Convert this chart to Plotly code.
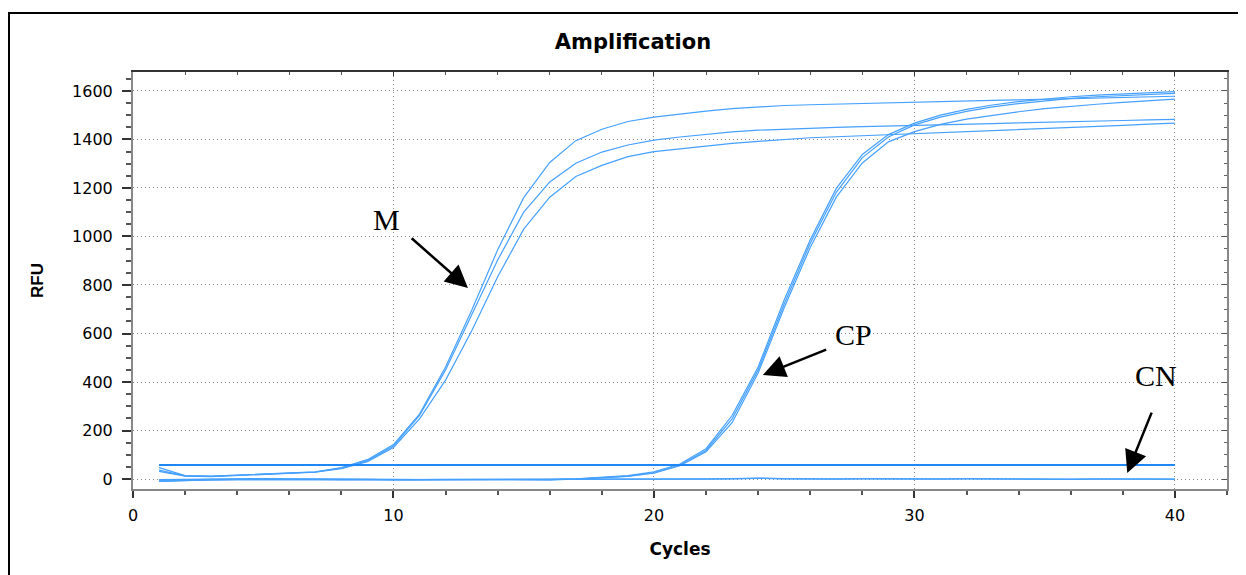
import plotly.graph_objects as go

cycles = list(range(1, 41))

m1 = [47, 14, 12, 16, 19, 23, 30, 47, 80, 142, 268, 462, 695, 945, 1160, 1305, 1395, 1442, 1474, 1492,
      1505, 1517, 1527, 1534, 1540, 1543, 1546, 1548, 1551, 1553, 1556, 1558, 1561, 1563, 1566, 1568, 1571, 1573, 1576, 1578]
m2 = [37, 13, 11, 15, 18, 22, 29, 45, 76, 136, 262, 450, 680, 903, 1100, 1225, 1302, 1348, 1377, 1397,
      1410, 1422, 1431, 1438, 1443, 1447, 1450, 1453, 1455, 1458, 1460, 1463, 1465, 1468, 1470, 1473, 1476, 1478, 1481, 1483]
m3 = [32, 12, 10, 14, 17, 21, 28, 43, 72, 130, 248, 408, 610, 834, 1030, 1162, 1247, 1293, 1329, 1350,
      1362, 1374, 1384, 1392, 1400, 1407, 1411, 1415, 1420, 1424, 1428, 1433, 1437, 1441, 1446, 1450, 1454, 1458, 1463, 1467]

cp1 = [-8, -4, -2, -1, -1, -2, -2, -3, -3, -4, -4, -4, -4, -3, -3, -2, 1, 6, 14, 30,
       62, 125, 262, 462, 738, 986, 1198, 1338, 1420, 1467, 1500, 1524, 1542, 1556, 1567, 1576, 1583, 1588, 1593, 1597]
cp2 = [-10, -5, -3, -2, -2, -2, -3, -3, -4, -5, -5, -5, -4, -4, -3, -3, 0, 5, 12, 27,
       58, 118, 248, 450, 722, 972, 1182, 1325, 1410, 1460, 1492, 1516, 1534, 1548, 1560, 1569, 1576, 1581, 1586, 1590]
cp3 = [-9, -5, -3, -2, -1, -2, -2, -3, -3, -4, -5, -4, -4, -4, -3, -2, 0, 4, 11, 24,
       55, 112, 232, 437, 706, 955, 1162, 1303, 1390, 1432, 1462, 1484, 1500, 1514, 1527, 1537, 1545, 1553, 1560, 1566]

cn1 = [-2, 0, 1, 1, 2, 1, 0, 0, -1, -2, -2, -1, -1, 0, -1, -2, -1, 0, -1, 0,
       0, 1, 2, 4, 2, 0, 1, 2, 1, 0, 1, 2, 1, 0, -1, 0, 1, 0, 1, 0]
cn2 = [-5, -2, -1, 0, 0, 1, 1, 0, -1, -3, -3, -2, -2, -1, -2, -3, -2, -1, 0, -1,
       -1, 0, 1, 3, 1, -1, 0, 1, 0, -1, 0, 1, 0, -1, -2, -1, 0, -1, 0, 0]

threshold = 58

x_ticks = [0, 10, 20, 30, 40]
y_ticks = [0, 200, 400, 600, 800, 1000, 1200, 1400, 1600]

curve_color = "#45a0ff"
thr_color = "#1f87f5"

fig = go.Figure()
for ys in [cn1, cn2, cp3, cp2, cp1, m3, m2, m1]:
    fig.add_trace(go.Scatter(x=cycles, y=ys, mode="lines",
                             line=dict(color=curve_color, width=1.2),
                             showlegend=False, hoverinfo="skip"))
fig.add_trace(go.Scatter(x=[cycles[0], cycles[-1]], y=[threshold, threshold], mode="lines",
                         line=dict(color=thr_color, width=2), showlegend=False, hoverinfo="skip"))
# dummy trace to display top/right axes
fig.add_trace(go.Scatter(x=[None], y=[None], xaxis="x2", yaxis="y2", showlegend=False))

XR = [0, 42]
YR = [-41, 1678]
SANS = "DejaVu Sans, Verdana, sans-serif"
tickfont = dict(family=SANS, size=16, color="black")

W, H = 1238, 567
L, R, T, B = 125, 19, 64, 86
PW, PH = W - L - R, H - T - B

fig.update_layout(
    width=W, height=H,
    margin=dict(l=L, r=R, t=T, b=B),
    paper_bgcolor="white", plot_bgcolor="white",
    title=dict(text="<b>Amplification</b>", x=(625 - L) / PW, xref="paper", xanchor="center",
               y=1 - 34 / H, yref="container", yanchor="middle",
               font=dict(family=SANS, size=21, color="black")),
    xaxis=dict(range=XR, tickvals=x_ticks, ticks="outside", ticklen=7, tickwidth=1.5, tickcolor="#333",
               showline=True, linecolor="#888", linewidth=2,
               showgrid=True, gridcolor="#888", griddash="1px,3px", gridwidth=1,
               zeroline=False, tickfont=tickfont, ticklabelstandoff=4,
               minor=dict(dtick=2, ticks="outside", ticklen=4, tickcolor="#555", showgrid=False),
               title=dict(text="<b>Cycles</b>", standoff=19,
                          font=dict(family=SANS, size=17, color="black"))),
    yaxis=dict(range=YR, tickvals=y_ticks, ticks="outside", ticklen=9, tickwidth=1.5, tickcolor="#333",
               showline=True, linecolor="#888", linewidth=2,
               showgrid=True, gridcolor="#888", griddash="1px,3px", gridwidth=1,
               zeroline=False, tickfont=tickfont, ticklabelstandoff=6,
               minor=dict(dtick=50, ticks="outside", ticklen=5, tickcolor="#555", showgrid=False),
               title=dict(text="<b>RFU</b>", standoff=24,
                          font=dict(family="Arial, Liberation Sans, sans-serif", size=17, color="black"))),
    xaxis2=dict(range=XR, overlaying="x", side="top", tickvals=x_ticks, ticks="inside", ticklen=4,
                tickcolor="#333", showticklabels=False, showline=True, linecolor="#333", linewidth=1.5,
                showgrid=False, zeroline=False,
                minor=dict(dtick=2, ticks="inside", ticklen=3, tickcolor="#555")),
    yaxis2=dict(range=YR, overlaying="y", side="right", tickvals=y_ticks, ticks="inside", ticklen=5,
                tickcolor="#555", showticklabels=False, showline=True, linecolor="#888", linewidth=2,
                showgrid=False, zeroline=False,
                minor=dict(dtick=50, ticks="inside", ticklen=3, tickcolor="#666")),
)

# outer frame (left and top edges only are visible in the picture)
fx0 = (1 - L) / PW
fx1 = (1300 - L) / PW
fy0 = 1 - (600 - T) / PH
fy1 = 1 - (5 - T) / PH
fig.add_shape(type="path", xref="paper", yref="paper",
              path=f"M {fx0},{fy0} L {fx0},{fy1} L {fx1},{fy1}",
              line=dict(color="black", width=2), layer="below")

label_font = dict(family="Liberation Serif, Times New Roman, serif", size=30, color="black")
labels = [("M", 9.72, 1068), ("CP", 27.66, 594), ("CN", 39.28, 425)]
for txt, lx, ly in labels:
    fig.add_annotation(x=lx, y=ly, xref="x", yref="y", text=txt, showarrow=False,
                       font=label_font, xanchor="center", yanchor="middle")

arrows = [(12.86, 788, 10.64, 998), (24.18, 429, 26.67, 536), (38.17, 25, 39.13, 280)]
for hx, hy, tx, ty in arrows:
    fig.add_annotation(x=hx, y=hy, ax=tx, ay=ty, xref="x", yref="y", axref="x", ayref="y",
                       text="", showarrow=True, arrowhead=2, arrowsize=1.8, arrowwidth=2.5,
                       arrowcolor="black")

fig.write_html("out.html")
